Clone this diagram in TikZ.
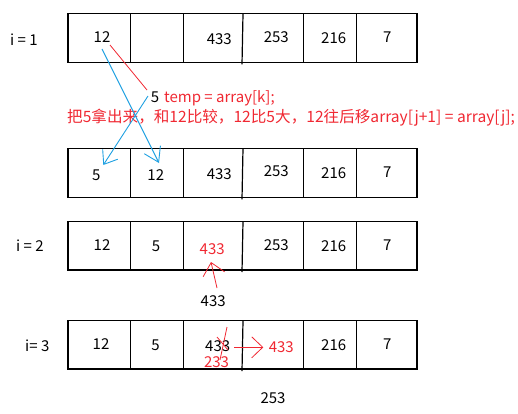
\documentclass[tikz,border=0pt]{standalone}
\usepackage{fontspec}
\setmainfont{Noto Sans CJK SC}
\usepackage{xcolor}
\usetikzlibrary{arrows.meta,calc}
\definecolor{inkred}{RGB}{240,40,50}
\definecolor{inkblue}{RGB}{30,160,225}

\begin{document}
\begin{tikzpicture}[x=1pt,y=-1pt,font=\fontsize{15}{18}\selectfont,
  val/.style={anchor=base,inner sep=0pt},
  lefttext/.style={anchor=base west,inner sep=0pt},
  grid/.style={line width=1.2pt},
  redpen/.style={inkred,line width=0.8pt},
  bluepen/.style={inkblue,line width=0.9pt}]
  \useasboundingbox (0,0) rectangle (518,413);
  % the four rows of the array
  \foreach \ya/\yb in {13.7/62.3,148.3/197.3,221.3/270,320.7/369}{
    \draw[grid] (68,\ya) rectangle (417,\yb);
    \foreach \xx in {130.5,183.5,303.3,356.3}
      \draw[grid] (\xx,\ya) -- (\xx,\yb);
    \draw[grid] (243,\ya) -- (242,\yb+2);
  }
  \node[lefttext] (lab1) at (10,45.7) {i = 1};
  \node[lefttext] (lab2) at (16,251.7) {i = 2};
  \node[lefttext] (lab3) at (25,351) {i= 3};
  % i = 1
  \node[val] (r1a) at (102,42.3) {12};
  \node[val] (r1c) at (219.3,44) {433};
  \node[val] (r1d) at (276.3,42.3) {253};
  \node[val] (r1e) at (333.7,43.3) {216};
  \node[val] (r1f) at (387.2,42.3) {7};
  \node[lefttext] (tmp) at (150.7,102.5) {5};
  \node[lefttext,text=inkred] (tmpcode) at (164,102.5) {temp = array[k];};
  \node[lefttext,text=inkred,font=\fontsize{15.6}{18}\selectfont] (note) at (67,122) {把5拿出来，和12比较，12比5大，12往后移array[j+1] = array[j];};
  % after the shift
  \node[val] (r2a) at (96.3,180) {5};
  \node[val] (r2b) at (155.8,180) {12};
  \node[val] (r2c) at (219.3,179) {433};
  \node[val] (r2d) at (276.3,176.7) {253};
  \node[val] (r2e) at (333.7,178.3) {216};
  \node[val] (r2f) at (387.2,177.7) {7};
  % i = 2
  \node[val] (r3a) at (102,250) {12};
  \node[val] (r3b) at (156,251.3) {5};
  \node[val,text=inkred] (r3c) at (212.2,254.7) {433};
  \node[val] (r3d) at (276.3,250) {253};
  \node[val] (r3e) at (333.7,251) {216};
  \node[val] (r3f) at (387.2,250.7) {7};
  \node[val] (out2) at (213.2,306.7) {433};
  % i = 3
  \node[val] (r4a) at (101,349) {12};
  \node[val] (r4b) at (155.5,350) {5};
  \node[val] (r4c) at (217.7,351.3) {433};
  \node[val,text=inkred] (r4d) at (281.3,352.7) {433};
  \node[val,text=inkred] (r4x) at (216.5,367.3) {233};
  \node[val] (r4e) at (333.7,350) {216};
  \node[val] (r4f) at (387.2,349.3) {7};
  \node[val] (out3) at (273,403.3) {253};
  % strokes
  \coordinate (redA) at (110,45);
  \coordinate (redB) at (147,90);
  \draw[redpen] (redA) -- (redB);
  \coordinate (blueA) at (102,49);
  \coordinate (blueB) at (159,163);
  \coordinate (blueC) at (148,96);
  \coordinate (blueD) at (103.3,165);
  \draw[bluepen,-{Straight Barb[length=14pt,width=18pt]}] (blueA) -- (blueB);
  \draw[bluepen,-{Straight Barb[length=12pt,width=18pt]}] (blueC) -- (blueD);
  \coordinate (upA) at (217,288);
  \coordinate (upB) at (211,262);
  \draw[redpen,-{Straight Barb[length=12pt,width=22pt]}] (upA) -- (upB);
  \coordinate (rtA) at (234.3,347.3);
  \coordinate (rtB) at (263.3,347.3);
  \draw[redpen,-{Straight Barb[length=11pt,width=21pt]}] (rtA) -- (rtB);
  \draw[redpen] (227,327) -- (220,360);
  \draw[redpen] (217,337) -- (228,350);
\end{tikzpicture}
\end{document}
